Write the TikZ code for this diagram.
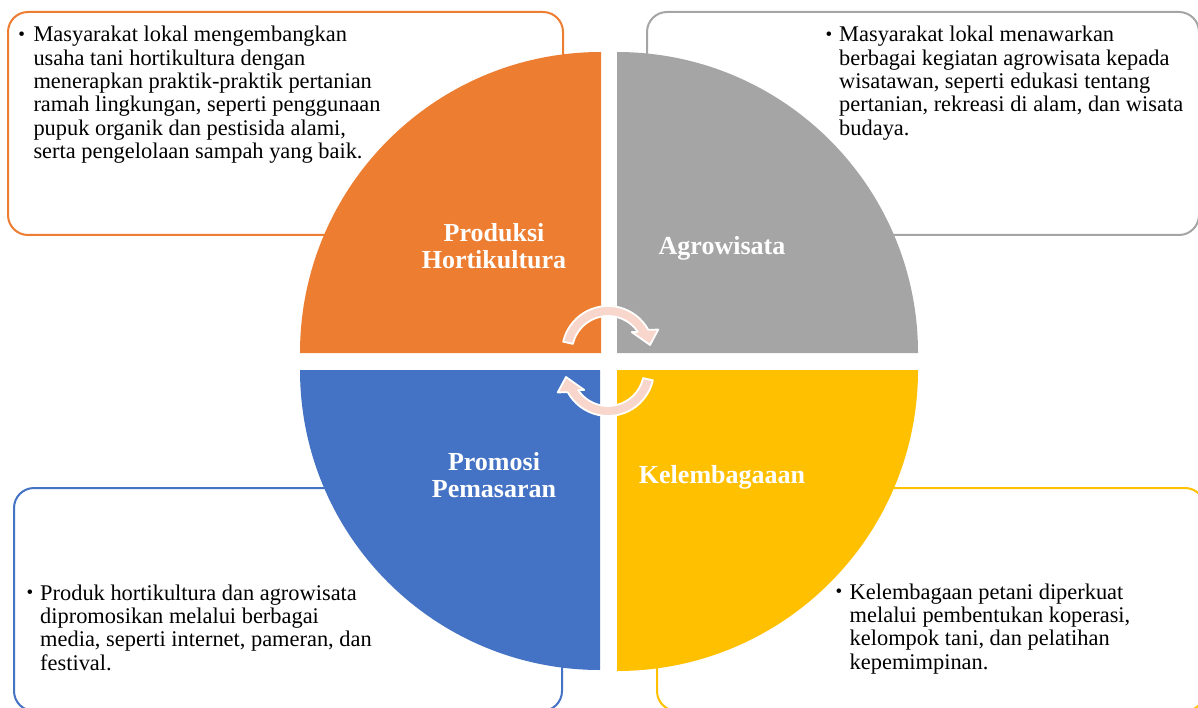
\documentclass[tikz,border=0pt]{standalone}
\usepackage{fontspec}
\setmainfont{Liberation Serif}
\definecolor{qorange}{HTML}{ED7D31}
\definecolor{qgray}{HTML}{A5A5A5}
\definecolor{qblue}{HTML}{4472C4}
\definecolor{qyellow}{HTML}{FFC000}
\definecolor{arrowpink}{HTML}{F8D6CB}
\begin{document}
\begin{tikzpicture}[x=1pt,y=-1pt,
  box/.style={line width=2pt, rounded corners=20pt, fill=white},
  body/.style={anchor=base west, inner sep=0pt, align=left, font=\fontsize{22.4}{23.4}\selectfont},
  bul/.style={anchor=base, inner sep=0pt, yshift=1.5pt, font=\fontsize{19}{19}\selectfont},
  title/.style={anchor=base, inner sep=0pt, align=center, text=white, font=\fontsize{26}{26.7}\selectfont\bfseries},
  cycarrow/.pic={
    \filldraw[fill=arrowpink, draw=white, line width=1.8pt, line join=round]
      (193:46) arc[start angle=193,end angle=331,radius=46]
      -- (336:55) -- (350.5:42.6) -- (320:31) -- (326:36)
      arc[start angle=326,end angle=193,radius=36] -- cycle;
  }]
\useasboundingbox (0,0) rectangle (1198,708);
% text boxes (behind)
\draw[box, draw=qorange] (8,12) rectangle (563,235);
\draw[box, draw=qgray] (647,12) rectangle (1199,235);
\draw[box, draw=qblue] (14,488) rectangle (562,711);
\draw[box, draw=qyellow] (657,488) rectangle (1205,711);
% quadrants
\fill[qorange] (601,353) -- (300,353) arc[start angle=180,end angle=270,radius=301] -- cycle;
\fill[qgray] (617,353) -- (617,52) arc[start angle=270,end angle=360,radius=301] -- cycle;
\fill[qblue] (600,370) -- (300,370) arc[start angle=180,end angle=90,radius=300] -- cycle;
\fill[qyellow] (617,370) -- (918,370) arc[start angle=0,end angle=90,radius=301] -- cycle;
% cycle arrows
\pic at (608,352) {cycarrow};
\pic[rotate=180] at (608,370) {cycarrow};
% titles (anchored at the baseline of their last line)
\node[title] (t1) at (494,268.3) {Produksi\\Hortikultura};
\node[title] (t2) at (722,255) {Agrowisata};
\node[title] (t3) at (494,497) {Promosi\\Pemasaran};
\node[title] (t4) at (722,483) {Kelembagaaan};
% bullets (first baseline) and body text (last baseline)
\node[bul] (u1) at (21.7,41.7) {\textbullet};
\node[body] (b1) at (33.3,158.7) {Masyarakat lokal mengembangkan\\usaha tani hortikultura dengan\\menerapkan praktik-praktik pertanian\\ramah lingkungan, seperti penggunaan\\pupuk organik dan pestisida alami,\\serta pengelolaan sampah yang baik.};
\node[bul] (u2) at (829,41.7) {\textbullet};
\node[body] (b2) at (839,135.3) {Masyarakat lokal menawarkan\\berbagai kegiatan agrowisata kepada\\wisatawan, seperti edukasi tentang\\pertanian, rekreasi di alam, dan wisata\\budaya.};
\node[bul] (u3) at (30,600) {\textbullet};
\node[body] (b3) at (40,670.2) {Produk hortikultura dan agrowisata\\dipromosikan melalui berbagai\\media, seperti internet, pameran, dan\\festival.};
\node[bul] (u4) at (839,599) {\textbullet};
\node[body] (b4) at (849.5,669.2) {Kelembagaan petani diperkuat\\melalui pembentukan koperasi,\\kelompok tani, dan pelatihan\\kepemimpinan.};
\end{tikzpicture}
\end{document}
